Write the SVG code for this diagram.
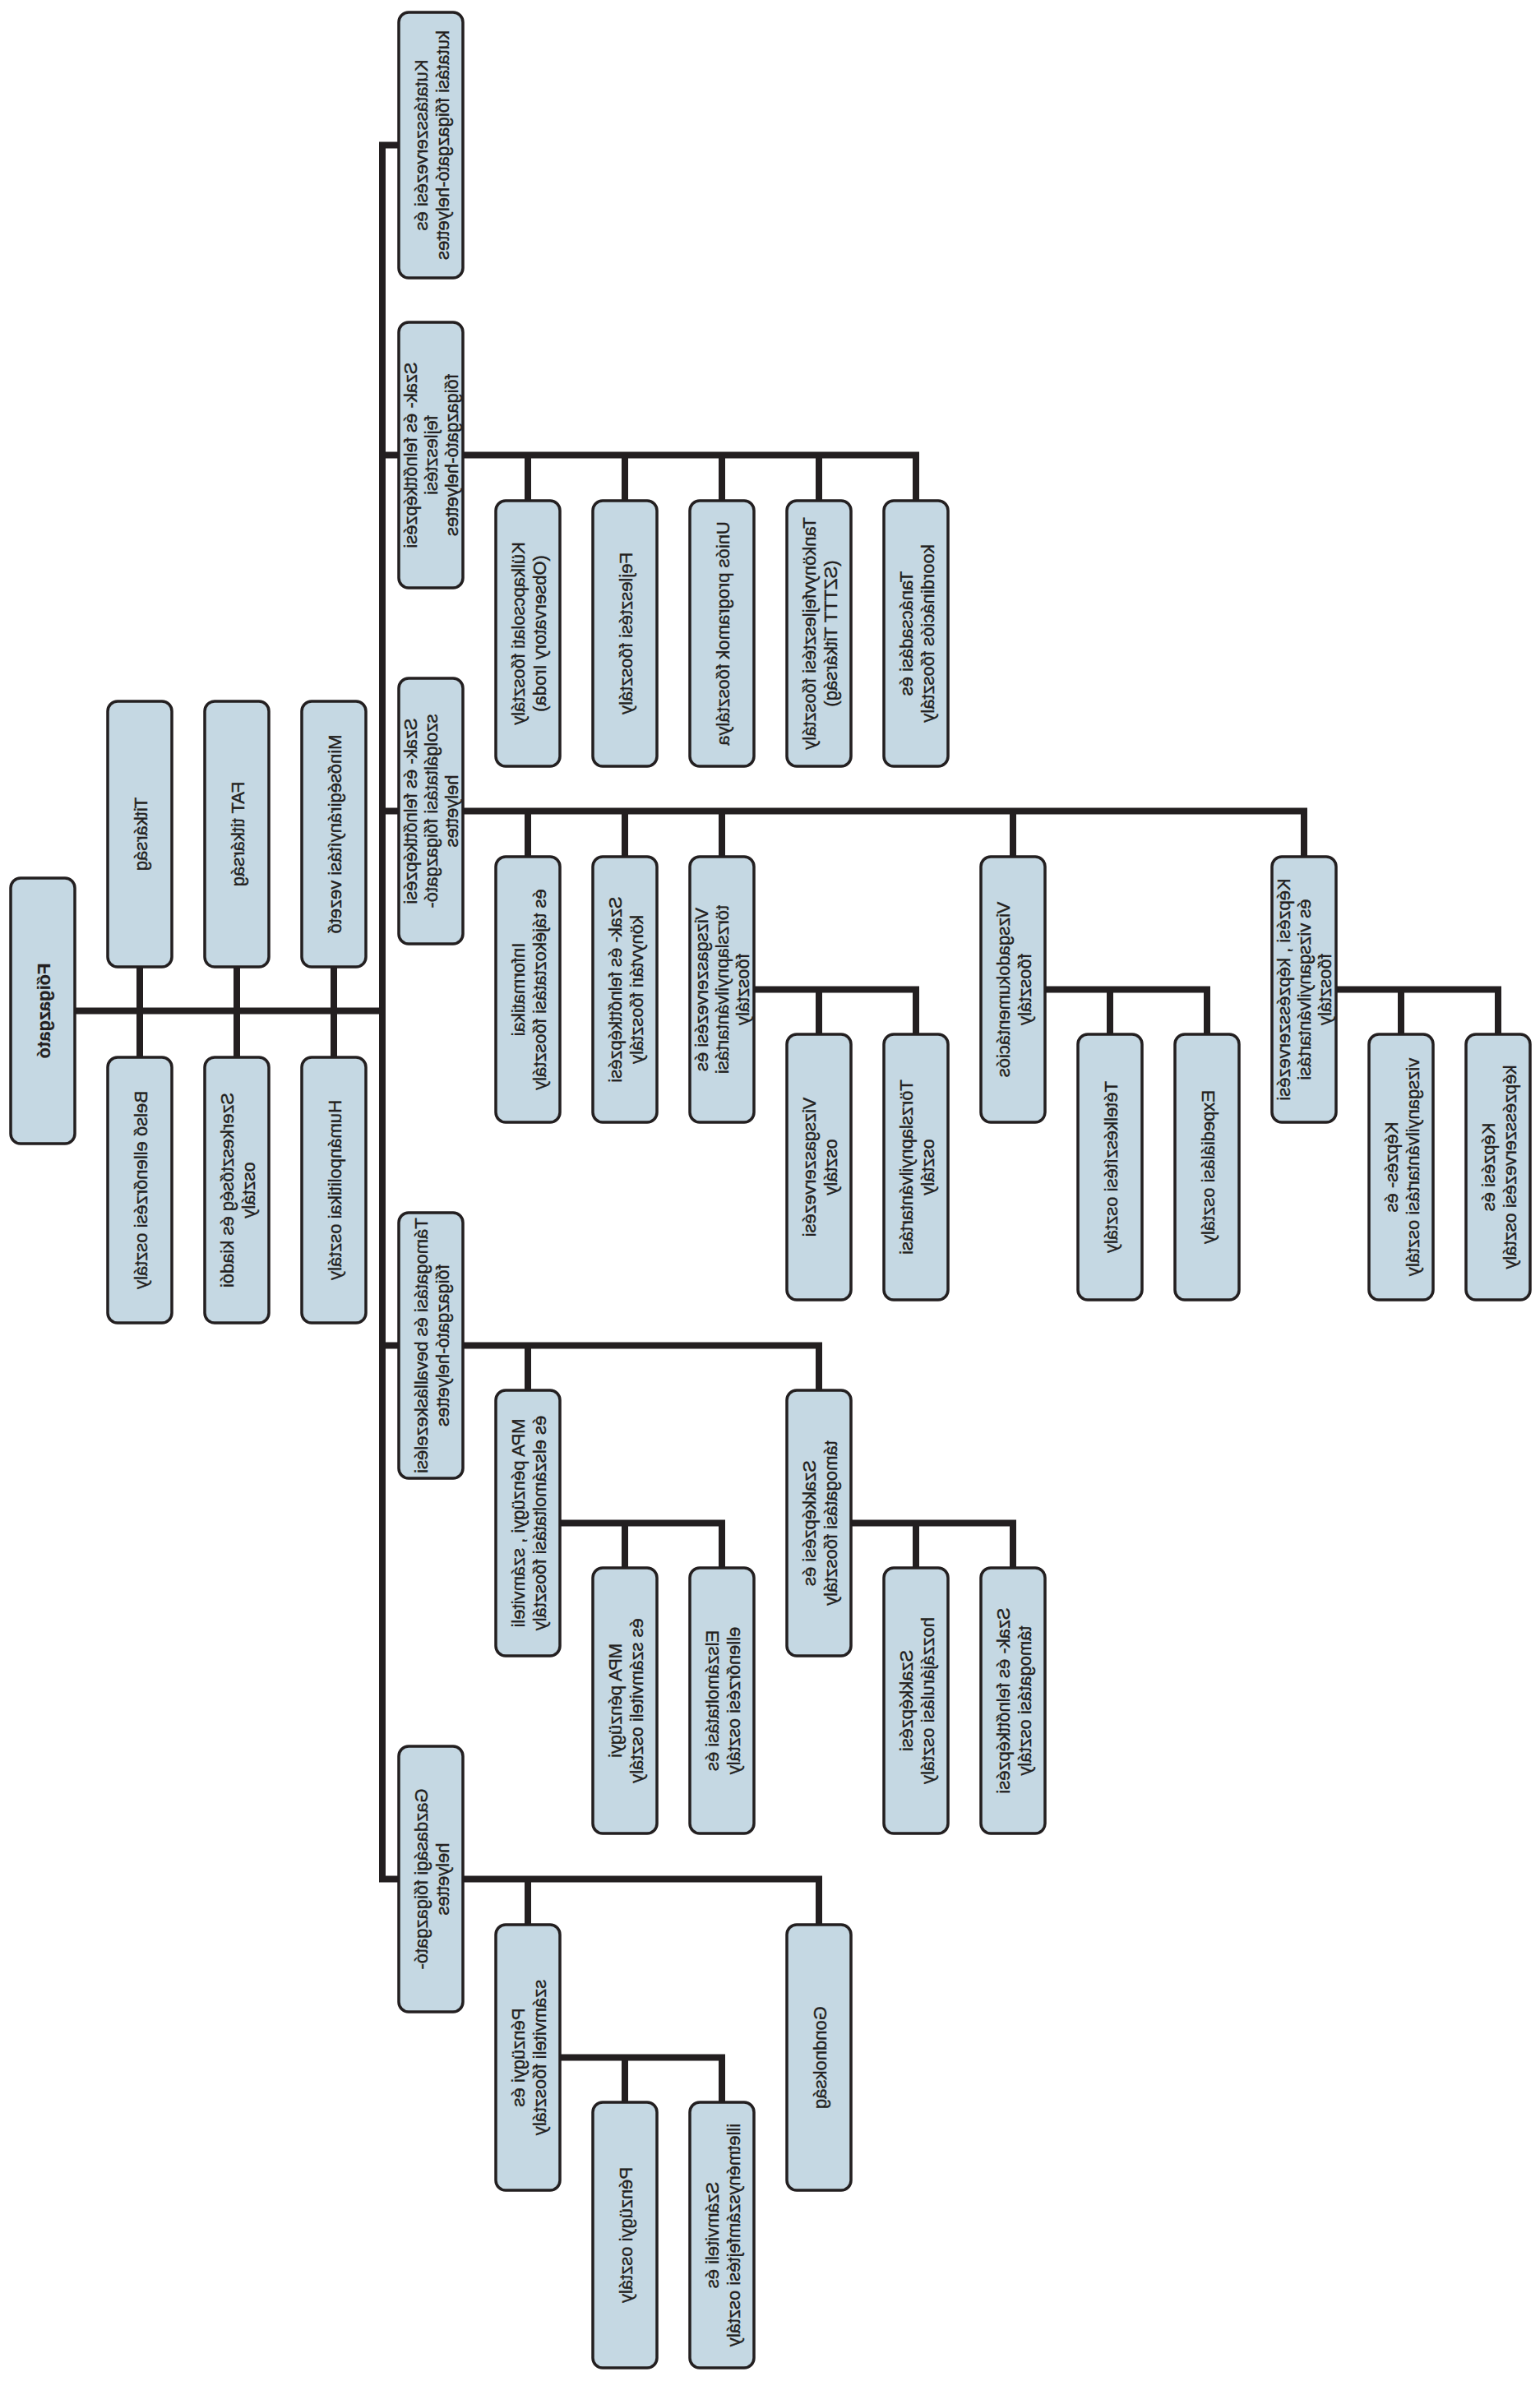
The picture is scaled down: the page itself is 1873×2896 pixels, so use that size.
<svg xmlns="http://www.w3.org/2000/svg" width="1873" height="2896" viewBox="0 0 1873 2896">
<style>
.bg{fill:#ffffff}
.box{fill:#c5d8e3;stroke:#231f20;stroke-width:3.5}
.ln{fill:none;stroke:#231f20;stroke-width:8;stroke-linejoin:miter;stroke-linecap:butt}
.t{font-family:"Liberation Sans",Arial,sans-serif;font-size:22px;fill:#231f20;stroke:#231f20;stroke-width:0.4;text-anchor:middle}
.b{font-weight:bold;stroke-width:0.2}
</style>
<rect class="bg" x="0" y="0" width="1873" height="2896"/>
<g id="connectors">
<path class="ln" d="M485,176.5 H465 V2285.5 H996 V2341"/>
<path class="ln" d="M92,1229.5 H465"/>
<path class="ln" d="M170,1176 V1286 M288,1176 V1286 M406,1176 V1286"/>
<path class="ln" d="M465,553.5 H1114 V609 M642,553.5 V609 M760,553.5 V609 M878,553.5 V609 M996,553.5 V609"/>
<path class="ln" d="M465,986.5 H1586 V1042 M642,986.5 V1042 M760,986.5 V1042 M878,986.5 V1042 M1232,986.5 V1042"/>
<path class="ln" d="M917,1203.5 H1114 V1258 M996,1203.5 V1258"/>
<path class="ln" d="M1271,1203.5 H1468 V1258 M1350,1203.5 V1258"/>
<path class="ln" d="M1625,1203.5 H1822 V1258 M1704,1203.5 V1258"/>
<path class="ln" d="M465,1636.5 H996 V1691 M642,1636.5 V1691"/>
<path class="ln" d="M681,1852.5 H878 V1907 M760,1852.5 V1907"/>
<path class="ln" d="M1035,1852.5 H1232 V1907 M1114,1852.5 V1907"/>
<path class="ln" d="M642,2285.5 V2341"/>
<path class="ln" d="M681,2502.5 H878 V2557 M760,2502.5 V2557"/>
</g>

<g id="n1"><rect class="box" x="13" y="1068" width="78" height="323" rx="12"/>
<text class="t b" transform="matrix(0,1,1,0,52,1229.5)"><tspan x="0" y="8.5">Főigazgató</tspan></text></g>

<g id="n2"><rect class="box" x="131" y="853" width="78" height="323" rx="12"/>
<text class="t" transform="matrix(0,1,1,0,170,1014.5)"><tspan x="0" y="8.5">Titkárság</tspan></text></g>
<g id="n3"><rect class="box" x="249" y="853" width="78" height="323" rx="12"/>
<text class="t" transform="matrix(0,1,1,0,288,1014.5)"><tspan x="0" y="8.5">FAT titkárság</tspan></text></g>
<g id="n4"><rect class="box" x="367" y="853" width="78" height="323" rx="12"/>
<text class="t" transform="matrix(0,1,1,0,406,1014.5)"><tspan x="0" y="8.5">Minőségirányítási vezető</tspan></text></g>

<g id="n5"><rect class="box" x="131" y="1286" width="78" height="323" rx="12"/>
<text class="t" transform="matrix(0,1,1,0,170,1447.5)"><tspan x="0" y="8.5">Belső ellenőrzési osztály</tspan></text></g>
<g id="n6"><rect class="box" x="249" y="1286" width="78" height="323" rx="12"/>
<text class="t" transform="matrix(0,1,1,0,288,1447.5)"><tspan x="0" y="-4.5">Szerkesztőség és kiadói</tspan><tspan x="0" y="21.5">osztály</tspan></text></g>
<g id="n7"><rect class="box" x="367" y="1286" width="78" height="323" rx="12"/>
<text class="t" transform="matrix(0,1,1,0,406,1447.5)"><tspan x="0" y="8.5">Humánpolitikai osztály</tspan></text></g>

<g id="n8"><rect class="box" x="485" y="15" width="78" height="323" rx="12"/>
<text class="t" transform="matrix(0,1,1,0,524,176.5)"><tspan x="0" y="-4.5">Kutatásszervezési és</tspan><tspan x="0" y="21.5">kutatási főigazgató-helyettes</tspan></text></g>

<g id="n9"><rect class="box" x="485" y="392" width="78" height="323" rx="12"/>
<text class="t" transform="matrix(0,1,1,0,524,553.5)"><tspan x="0" y="-17">Szak- és felnőttképzési</tspan><tspan x="0" y="8">fejlesztési</tspan><tspan x="0" y="33">főigazgató-helyettes</tspan></text></g>
<g id="n10"><rect class="box" x="603" y="609" width="78" height="323" rx="12"/>
<text class="t" transform="matrix(0,1,1,0,642,770.5)"><tspan x="0" y="-4.5">Külkapcsolati főosztály</tspan><tspan x="0" y="21.5">(Observatory Iroda)</tspan></text></g>
<g id="n11"><rect class="box" x="721" y="609" width="78" height="323" rx="12"/>
<text class="t" transform="matrix(0,1,1,0,760,770.5)"><tspan x="0" y="8.5">Fejlesztési főosztály</tspan></text></g>
<g id="n12"><rect class="box" x="839" y="609" width="78" height="323" rx="12"/>
<text class="t" transform="matrix(0,1,1,0,878,770.5)"><tspan x="0" y="8.5">Uniós programok főosztálya</tspan></text></g>
<g id="n13"><rect class="box" x="957" y="609" width="78" height="323" rx="12"/>
<text class="t" transform="matrix(0,1,1,0,996,770.5)"><tspan x="0" y="-4.5">Tankönyvfejlesztési főosztály</tspan><tspan x="0" y="21.5">(SZTTT Titkárság)</tspan></text></g>
<g id="n14"><rect class="box" x="1075" y="609" width="78" height="323" rx="12"/>
<text class="t" transform="matrix(0,1,1,0,1114,770.5)"><tspan x="0" y="-4.5">Tanácsadási és</tspan><tspan x="0" y="21.5">koordinációs főosztály</tspan></text></g>

<g id="n15"><rect class="box" x="485" y="825" width="78" height="323" rx="12"/>
<text class="t" transform="matrix(0,1,1,0,524,986.5)"><tspan x="0" y="-17">Szak- és felnőttképzési</tspan><tspan x="0" y="8">szolgáltatási főigazgató-</tspan><tspan x="0" y="33">helyettes</tspan></text></g>
<g id="n16"><rect class="box" x="603" y="1042" width="78" height="323" rx="12"/>
<text class="t" transform="matrix(0,1,1,0,642,1203.5)"><tspan x="0" y="-4.5">Informatikai</tspan><tspan x="0" y="21.5">és tájékoztatási főosztály</tspan></text></g>
<g id="n17"><rect class="box" x="721" y="1042" width="78" height="323" rx="12"/>
<text class="t" transform="matrix(0,1,1,0,760,1203.5)"><tspan x="0" y="-4.5">Szak- és felnőttképzési</tspan><tspan x="0" y="21.5">könyvtári főosztály</tspan></text></g>
<g id="n18"><rect class="box" x="839" y="1042" width="78" height="323" rx="12"/>
<text class="t" transform="matrix(0,1,1,0,878,1203.5)"><tspan x="0" y="-17">Vizsgaszervezési és</tspan><tspan x="0" y="8">törzslapnyilvántartási</tspan><tspan x="0" y="33">főosztály</tspan></text></g>
<g id="n19"><rect class="box" x="957" y="1258" width="78" height="323" rx="12"/>
<text class="t" transform="matrix(0,1,1,0,996,1419.5)"><tspan x="0" y="-4.5">Vizsgaszervezési</tspan><tspan x="0" y="21.5">osztály</tspan></text></g>
<g id="n20"><rect class="box" x="1075" y="1258" width="78" height="323" rx="12"/>
<text class="t" transform="matrix(0,1,1,0,1114,1419.5)"><tspan x="0" y="-4.5">Törzslapnyilvántartási</tspan><tspan x="0" y="21.5">osztály</tspan></text></g>
<g id="n21"><rect class="box" x="1193" y="1042" width="78" height="323" rx="12"/>
<text class="t" transform="matrix(0,1,1,0,1232,1203.5)"><tspan x="0" y="-4.5">Vizsgadokumentációs</tspan><tspan x="0" y="21.5">főosztály</tspan></text></g>
<g id="n22"><rect class="box" x="1311" y="1258" width="78" height="323" rx="12"/>
<text class="t" transform="matrix(0,1,1,0,1350,1419.5)"><tspan x="0" y="8.5">Tételkészítési osztály</tspan></text></g>
<g id="n23"><rect class="box" x="1429" y="1258" width="78" height="323" rx="12"/>
<text class="t" transform="matrix(0,1,1,0,1468,1419.5)"><tspan x="0" y="8.5">Expediálási osztály</tspan></text></g>
<g id="n24"><rect class="box" x="1547" y="1042" width="78" height="323" rx="12"/>
<text class="t" transform="matrix(0,1,1,0,1586,1203.5)"><tspan x="0" y="-17">Képzési , képzésszervezési</tspan><tspan x="0" y="8">és vizsganyilvántartási</tspan><tspan x="0" y="33">főosztály</tspan></text></g>
<g id="n25"><rect class="box" x="1665" y="1258" width="78" height="323" rx="12"/>
<text class="t" transform="matrix(0,1,1,0,1704,1419.5)"><tspan x="0" y="-4.5">Képzés- és</tspan><tspan x="0" y="21.5">vizsganyilvántartási osztály</tspan></text></g>
<g id="n26"><rect class="box" x="1783" y="1258" width="78" height="323" rx="12"/>
<text class="t" transform="matrix(0,1,1,0,1822,1419.5)"><tspan x="0" y="-4.5">Képzési és</tspan><tspan x="0" y="21.5">képzésszervezési osztály</tspan></text></g>

<g id="n27"><rect class="box" x="485" y="1475" width="78" height="323" rx="12"/>
<text class="t" transform="matrix(0,1,1,0,524,1636.5)"><tspan x="0" y="-4.5">Támogatási és bevalláskezelési</tspan><tspan x="0" y="21.5">főigazgató-helyettes</tspan></text></g>
<g id="n28"><rect class="box" x="603" y="1691" width="78" height="323" rx="12"/>
<text class="t" transform="matrix(0,1,1,0,642,1852.5)"><tspan x="0" y="-4.5">MPA pénzügyi , számviteli</tspan><tspan x="0" y="21.5">és elszámoltatási főosztály</tspan></text></g>
<g id="n29"><rect class="box" x="721" y="1907" width="78" height="323" rx="12"/>
<text class="t" transform="matrix(0,1,1,0,760,2068.5)"><tspan x="0" y="-4.5">MPA pénzügyi</tspan><tspan x="0" y="21.5">és számviteli osztály</tspan></text></g>
<g id="n30"><rect class="box" x="839" y="1907" width="78" height="323" rx="12"/>
<text class="t" transform="matrix(0,1,1,0,878,2068.5)"><tspan x="0" y="-4.5">Elszámoltatási és</tspan><tspan x="0" y="21.5">ellenőrzési osztály</tspan></text></g>
<g id="n31"><rect class="box" x="957" y="1691" width="78" height="323" rx="12"/>
<text class="t" transform="matrix(0,1,1,0,996,1852.5)"><tspan x="0" y="-4.5">Szakképzési és</tspan><tspan x="0" y="21.5">támogatási főosztály</tspan></text></g>
<g id="n32"><rect class="box" x="1075" y="1907" width="78" height="323" rx="12"/>
<text class="t" transform="matrix(0,1,1,0,1114,2068.5)"><tspan x="0" y="-4.5">Szakképzési</tspan><tspan x="0" y="21.5">hozzájárulási osztály</tspan></text></g>
<g id="n33"><rect class="box" x="1193" y="1907" width="78" height="323" rx="12"/>
<text class="t" transform="matrix(0,1,1,0,1232,2068.5)"><tspan x="0" y="-4.5">Szak- és felnőttképzési</tspan><tspan x="0" y="21.5">támogatási osztály</tspan></text></g>

<g id="n34"><rect class="box" x="485" y="2124" width="78" height="323" rx="12"/>
<text class="t" transform="matrix(0,1,1,0,524,2285.5)"><tspan x="0" y="-4.5">Gazdasági főigazgató-</tspan><tspan x="0" y="21.5">helyettes</tspan></text></g>
<g id="n35"><rect class="box" x="603" y="2341" width="78" height="323" rx="12"/>
<text class="t" transform="matrix(0,1,1,0,642,2502.5)"><tspan x="0" y="-4.5">Pénzügyi és</tspan><tspan x="0" y="21.5">számviteli főosztály</tspan></text></g>
<g id="n36"><rect class="box" x="721" y="2557" width="78" height="323" rx="12"/>
<text class="t" transform="matrix(0,1,1,0,760,2718.5)"><tspan x="0" y="8.5">Pénzügyi osztály</tspan></text></g>
<g id="n37"><rect class="box" x="839" y="2557" width="78" height="323" rx="12"/>
<text class="t" transform="matrix(0,1,1,0,878,2718.5)"><tspan x="0" y="-4.5">Számviteli és</tspan><tspan x="0" y="21.5">illetményszámfejtési osztály</tspan></text></g>
<g id="n38"><rect class="box" x="957" y="2341" width="78" height="323" rx="12"/>
<text class="t" transform="matrix(0,1,1,0,996,2502.5)"><tspan x="0" y="8.5">Gondnokság</tspan></text></g>
</svg>
